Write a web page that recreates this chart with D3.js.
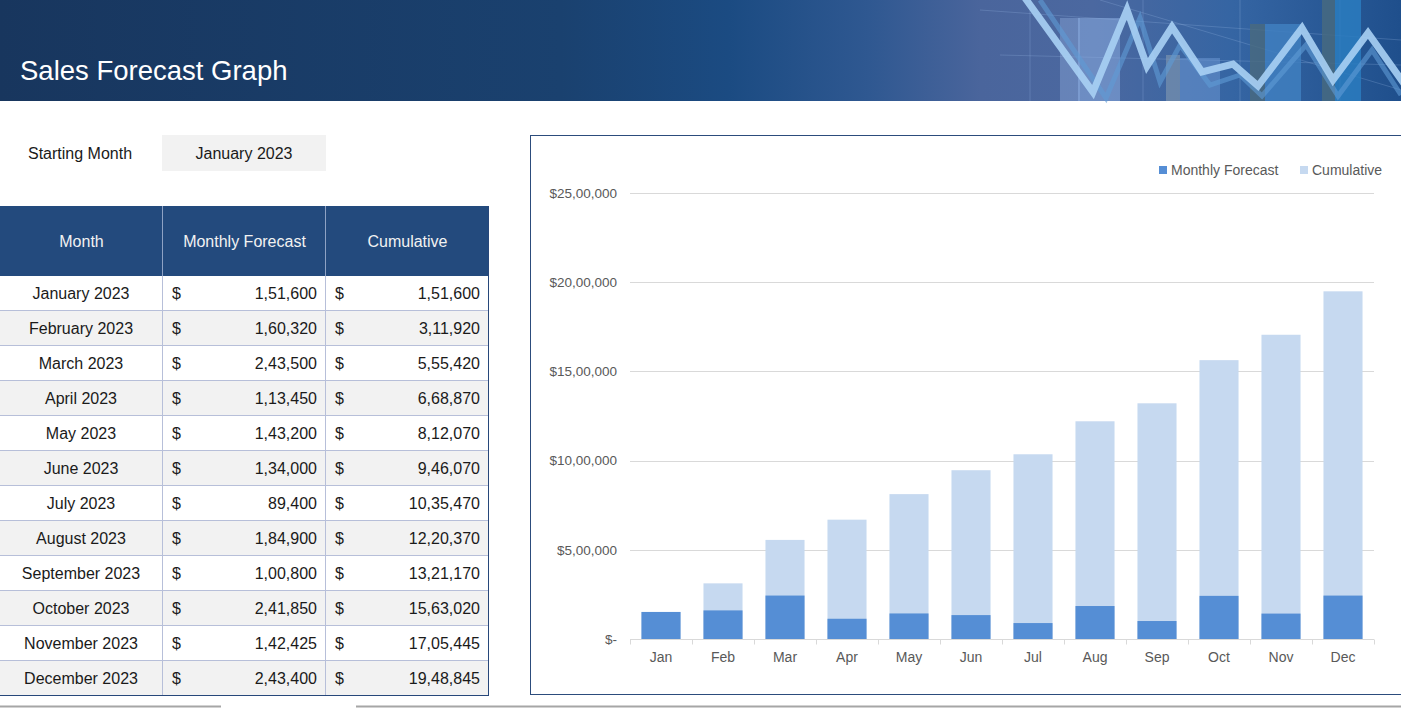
<!DOCTYPE html>
<html>
<head>
<meta charset="utf-8">
<script src="https://d3js.org/d3.v7.min.js"></script>
<style>
  html, body { margin: 0; padding: 0; background: #fff; }
  svg { display: block; font-family: "Liberation Sans", Arial, sans-serif; }
</style>
</head>
<body>
<svg id="sheet" width="1401" height="708"></svg>
<script>
/* data */
var monthNames = ["January 2023", "February 2023", "March 2023", "April 2023", "May 2023", "June 2023",
                  "July 2023", "August 2023", "September 2023", "October 2023", "November 2023", "December 2023"];
var monthShort = ["Jan", "Feb", "Mar", "Apr", "May", "Jun", "Jul", "Aug", "Sep", "Oct", "Nov", "Dec"];
var monthlyForecast = [151600, 160320, 243500, 113450, 143200, 134000, 89400, 184900, 100800, 241850, 142425, 243400];
var cumulative = [151600, 311920, 555420, 668870, 812070, 946070, 1035470, 1220370, 1321170, 1563020, 1705445, 1948845];
var yTicks = [0, 500000, 1000000, 1500000, 2000000, 2500000];
var tableHeads = ["Month", "Monthly Forecast", "Cumulative"];
var seriesNames = ["Monthly Forecast", "Cumulative"];
var startingMonth = "January 2023";

/* indian digit grouping, e.g. 1,51,600 */
function inr(n){
	var s = String(Math.round(n));
	if (s.length <= 3) return s;
	var last3 = s.slice(-3), rest = s.slice(0, -3);
	rest = rest.replace(/\B(?=(\d{2})+(?!\d))/g, ",");
	return rest + "," + last3;
}

var svg = d3.select("#sheet");
var defs = svg.append("defs");

/* ---------- header banner ---------- */
var grad = defs.append("linearGradient").attr("id", "banner").attr("x1", 0).attr("x2", 1).attr("y1", 0).attr("y2", 0);
[[0, "#18365e"], [0.4, "#1a416f"], [0.52, "#1b4b82"], [0.62, "#2f5891"], [0.7, "#4a659c"], [0.78, "#4b68a0"],
 [0.88, "#3565a3"], [1, "#1f4f8c"]].forEach(function(s){
	grad.append("stop").attr("offset", s[0]).attr("stop-color", s[1]);
});
svg.append("rect").attr("x", 0).attr("y", 0).attr("width", 1401).attr("height", 101).attr("fill", "url(#banner)");

var deco = svg.append("g").attr("class", "banner-deco");
// faint grid lines of the banner picture
[1030, 1143, 1240, 1340].forEach(function(x){
	deco.append("line").attr("x1", x).attr("x2", x).attr("y1", 0).attr("y2", 101)
		.attr("stroke", "#8fb0dd").attr("stroke-opacity", 0.3);
});
[[980, 10, 1401, 40], [1000, 55, 1401, 65], [1100, 0, 1401, 90]].forEach(function(l){
	deco.append("line").attr("x1", l[0]).attr("y1", l[1]).attr("x2", l[2]).attr("y2", l[3])
		.attr("stroke", "#9cbbe6").attr("stroke-opacity", 0.25);
});
// translucent bars of the banner picture
[[1060, 18, 20, "#8aa6d8", 0.45], [1078, 18, 42, "#8fb1e6", 0.5], [1166, 55, 14, "#8b9fb3", 0.55],
 [1180, 58, 40, "#6d9ad6", 0.5], [1250, 24, 15, "#4a6a7e", 0.8], [1265, 24, 36, "#3f7fc0", 0.85],
 [1322, 0, 13, "#476a80", 0.85], [1335, 0, 26, "#2a7dc0", 0.85]].forEach(function(b){
	deco.append("rect").attr("x", b[0]).attr("y", b[1]).attr("width", b[2]).attr("height", 101 - b[1])
		.attr("fill", b[3]).attr("fill-opacity", b[4]);
});
var zig = d3.line();
deco.append("path")
	.attr("d", zig([[1040, 0], [1106, 98], [1140, 18], [1160, 82], [1180, 45], [1210, 85], [1240, 75], [1262, 96], [1306, 45], [1338, 96], [1372, 50], [1401, 95]]))
	.attr("fill", "none").attr("stroke", "#5f9bd6").attr("stroke-width", 5).attr("stroke-opacity", 0.6);
deco.append("path")
	.attr("d", zig([[1025, -2], [1093, 92], [1127, 10], [1147, 66], [1172, 27], [1202, 72], [1233, 64], [1258, 86], [1302, 28], [1333, 80], [1368, 33], [1405, 85]]))
	.attr("fill", "none").attr("stroke", "#a8d0f4").attr("stroke-width", 7).attr("stroke-linejoin", "miter")
	.attr("stroke-opacity", 0.9);

svg.append("text").attr("x", 20).attr("y", 80)
	.attr("fill", "#ffffff").style("font-size", "27.5px")
	.text("Sales Forecast Graph");

/* ---------- starting month ---------- */
svg.append("text").attr("x", 28).attr("y", 153).attr("dy", "0.35em")
	.style("font-size", "16px").attr("fill", "#1a1a1a").text("Starting Month");
svg.append("rect").attr("x", 162).attr("y", 135).attr("width", 164).attr("height", 36).attr("fill", "#f2f2f2");
svg.append("text").attr("x", 244).attr("y", 153).attr("dy", "0.35em").attr("text-anchor", "middle")
	.style("font-size", "16px").attr("fill", "#1a1a1a").text(startingMonth);

/* ---------- table ---------- */
var colX = [0, 163, 326, 489];
var headTop = 206, headH = 70, rowH = 35;
var table = svg.append("g").attr("class", "table");

table.append("rect").attr("x", 0).attr("y", headTop).attr("width", 489).attr("height", headH).attr("fill", "#234a7d");
tableHeads.forEach(function(h, i){
	table.append("text").attr("x", (colX[i] + colX[i + 1]) / 2).attr("y", headTop + headH / 2).attr("dy", "0.35em")
		.attr("text-anchor", "middle").attr("fill", "#f2f2f2").style("font-size", "16px").text(h);
});

var rows = table.selectAll("g.row").data(monthNames).enter().append("g")
	.attr("class", "row")
	.attr("transform", function(d, i){ return "translate(0," + (headTop + headH + i * rowH) + ")"; });

rows.append("rect").attr("x", 0).attr("y", 0).attr("width", 489).attr("height", rowH)
	.attr("fill", function(d, i){ return i % 2 ? "#f2f2f2" : "#ffffff"; });
rows.append("line").attr("x1", 0).attr("x2", 489).attr("y1", rowH - 0.5).attr("y2", rowH - 0.5)
	.attr("stroke", "#b7bfd9");
rows.append("text").attr("x", 81).attr("y", rowH / 2).attr("dy", "0.35em").attr("text-anchor", "middle")
	.style("font-size", "16px").attr("fill", "#1a1a1a").text(function(d){ return d; });
[[monthlyForecast, 1], [cumulative, 2]].forEach(function(c){
	rows.append("text").attr("x", colX[c[1]] + 9).attr("y", rowH / 2).attr("dy", "0.35em")
		.style("font-size", "16px").attr("fill", "#1a1a1a").text("$");
	rows.append("text").attr("x", colX[c[1] + 1] - 9).attr("y", rowH / 2).attr("dy", "0.35em")
		.attr("text-anchor", "end").style("font-size", "16px").attr("fill", "#1a1a1a")
		.text(function(d, i){ return inr(c[0][i]); });
});

var tableBottom = headTop + headH + monthNames.length * rowH;
[162.5, 325.5].forEach(function(x){
	table.append("line").attr("x1", x).attr("x2", x).attr("y1", headTop).attr("y2", headTop + headH)
		.attr("stroke", "#8ea2c4");
	table.append("line").attr("x1", x).attr("x2", x).attr("y1", headTop + headH).attr("y2", tableBottom)
		.attr("stroke", "#b7bfd9");
});
table.append("line").attr("x1", 488.5).attr("x2", 488.5).attr("y1", headTop).attr("y2", tableBottom)
	.attr("stroke", "#27477a");
table.append("line").attr("x1", 0).attr("x2", 489).attr("y1", tableBottom - 0.5).attr("y2", tableBottom - 0.5)
	.attr("stroke", "#27477a");

/* ---------- chart ---------- */
svg.append("rect").attr("x", 530.5).attr("y", 135.5).attr("width", 890).attr("height", 559)
	.attr("fill", "#ffffff").attr("stroke", "#2c4c7c");

var xScale = d3.scaleBand().domain(monthShort).range([630, 1374]).paddingInner(0.37).paddingOuter(0.185);
var yScale = d3.scaleLinear().domain([0, 2500000]).range([639, 193]);
var colMonthly = "#558ed5", colCumul = "#c6d9f0";

var chart = svg.append("g").attr("class", "chart");

var yAxis = d3.axisLeft(yScale).tickValues(yTicks).tickSize(0).tickPadding(13)
	.tickFormat(function(d){ return d === 0 ? "$-" : "$" + inr(d); });
var yAxisG = chart.append("g").attr("transform", "translate(630,0)").call(yAxis);
yAxisG.select(".domain").remove();
yAxisG.attr("font-size", null).attr("font-family", null);
yAxisG.selectAll("text").attr("fill", "#595959").style("font-size", "13.5px");

chart.append("g").selectAll("line").data(yTicks.slice(1)).enter().append("line")
	.attr("x1", 630).attr("x2", 1374)
	.attr("y1", function(d){ return Math.round(yScale(d)) + 0.5; })
	.attr("y2", function(d){ return Math.round(yScale(d)) + 0.5; })
	.attr("stroke", "#d9d9d9");

// cumulative behind, monthly in front (100% overlap)
chart.append("g").selectAll("rect").data(cumulative).enter().append("rect")
	.attr("x", function(d, i){ return xScale(monthShort[i]); })
	.attr("width", xScale.bandwidth())
	.attr("y", function(d){ return yScale(d); })
	.attr("height", function(d){ return yScale(0) - yScale(d); })
	.attr("fill", colCumul);
chart.append("g").selectAll("rect").data(monthlyForecast).enter().append("rect")
	.attr("x", function(d, i){ return xScale(monthShort[i]); })
	.attr("width", xScale.bandwidth())
	.attr("y", function(d){ return yScale(d); })
	.attr("height", function(d){ return yScale(0) - yScale(d); })
	.attr("fill", colMonthly);

var xAxis = d3.axisBottom(xScale).tickSize(0).tickPadding(13);
var xAxisG = chart.append("g").attr("transform", "translate(0,639.5)").call(xAxis);
xAxisG.attr("font-size", null).attr("font-family", null);
xAxisG.select(".domain").attr("stroke", "#d9d9d9").attr("d", "M630,0H1374");
xAxisG.selectAll("text").attr("fill", "#595959").style("font-size", "14px");
// category separators under the axis
var step = xScale.step();
xAxisG.append("g").selectAll("line").data(d3.range(monthShort.length + 1)).enter().append("line")
	.attr("x1", function(i){ return Math.round(630 + i * step) + 0.5; })
	.attr("x2", function(i){ return Math.round(630 + i * step) + 0.5; })
	.attr("y1", 0).attr("y2", 5).attr("stroke", "#d9d9d9");

// legend
var legend = chart.append("g").attr("transform", "translate(1159,170)").style("font-size", "14px");
var legX = [0, 141];
seriesNames.forEach(function(name, i){
	legend.append("rect").attr("x", legX[i]).attr("y", -4).attr("width", 8).attr("height", 8)
		.attr("fill", i === 0 ? colMonthly : colCumul);
	legend.append("text").attr("x", legX[i] + 12).attr("y", 0).attr("dy", "0.35em")
		.attr("fill", "#595959").text(name);
});

/* ---------- sheet bottom edge ---------- */
svg.append("line").attr("x1", 0).attr("x2", 221).attr("y1", 706.5).attr("y2", 706.5).attr("stroke", "#a6a6a6").attr("stroke-width", 2);
svg.append("line").attr("x1", 356).attr("x2", 1401).attr("y1", 706.5).attr("y2", 706.5).attr("stroke", "#a6a6a6").attr("stroke-width", 2);
</script>
</body>
</html>
